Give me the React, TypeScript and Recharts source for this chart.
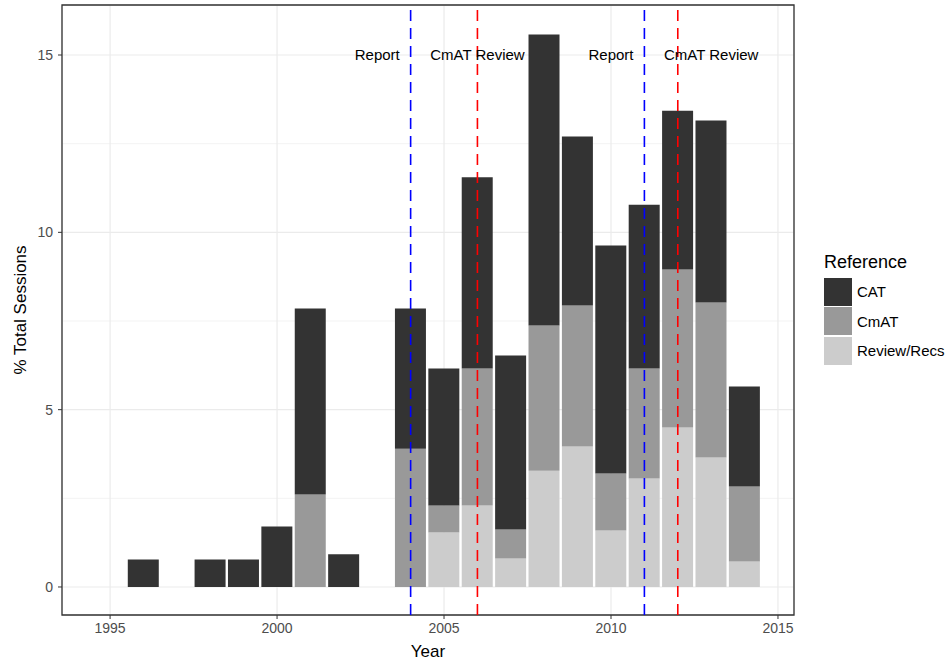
import {
  Bar,
  BarChart,
  CartesianGrid,
  ReferenceArea,
  ReferenceDot,
  ReferenceLine,
  XAxis,
  YAxis,
} from 'recharts';

// year of each bar and the height of each stacked piece (% of sessions)
const years = [1996, 1998, 1999, 2000, 2001, 2002, 2004, 2005, 2006, 2007, 2008, 2009, 2010, 2011, 2012, 2013, 2014];
const reviewRecs = [0, 0, 0, 0, 0, 0, 0, 1.54, 2.3, 0.8, 3.28, 3.96, 1.59, 3.06, 4.5, 3.65, 0.72];
const cmat = [0, 0, 0, 0, 2.61, 0, 3.9, 0.76, 3.86, 0.82, 4.09, 3.98, 1.61, 3.1, 4.45, 4.37, 2.11];
const cat = [0.775, 0.775, 0.775, 1.705, 5.24, 0.92, 3.95, 3.86, 5.39, 4.91, 8.21, 4.76, 6.43, 4.62, 4.48, 5.13, 2.82];

const xTicks = [1995, 2000, 2005, 2010, 2015];
const xMinor = [1997.5, 2002.5, 2007.5, 2012.5];
const yTicks = [0, 5, 10, 15];
const yMinor = [2.5, 7.5, 12.5];
const xDomain = [1993.56, 2015.48];
const yDomain = [-0.79, 16.41];

const reportYears = [2004, 2011];
const reviewYears = [2006, 2012];
const notes = [
  { x: 2003, label: 'Report' },
  { x: 2006, label: 'CmAT Review' },
  { x: 2010, label: 'Report' },
  { x: 2013, label: 'CmAT Review' },
];
const noteY = 15;

const series = [
  { key: 'CAT', color: '#333333' },
  { key: 'CmAT', color: '#999999' },
  { key: 'Review/Recs', color: '#cccccc' },
];

const data = years.map((year, i) => ({
  year,
  'Review/Recs': reviewRecs[i],
  CmAT: cmat[i],
  CAT: cat[i],
}));

const font = '"Liberation Sans", Arial, Helvetica, sans-serif';
const tickStyle = { fill: '#4d4d4d', fontSize: 14, fontFamily: font };

export default function App() {
  return (
    <div style={{ position: 'absolute', left: 0, top: 0, width: 945, height: 661, fontFamily: font }}>
      <BarChart
        width={945}
        height={661}
        data={data}
        margin={{ top: 5, right: 151, bottom: 0, left: 0 }}
        barSize={31}
      >
        {/* hidden axes only carry the minor grid positions */}
        <XAxis xAxisId="minor" type="number" domain={xDomain} ticks={xMinor} allowDataOverflow hide />
        <YAxis yAxisId="minor" type="number" domain={yDomain} ticks={yMinor} allowDataOverflow hide />
        <CartesianGrid xAxisId="minor" yAxisId="minor" stroke="#ebebeb" strokeWidth={0.6} />
        <CartesianGrid stroke="#ebebeb" strokeWidth={1.2} />
        <XAxis
          dataKey="year"
          type="number"
          domain={xDomain}
          ticks={xTicks}
          allowDataOverflow
          height={46}
          axisLine={false}
          tickSize={4}
          tickMargin={4}
          tickLine={{ stroke: '#333333' }}
          tick={tickStyle}
          label={{ value: 'Year', position: 'insideBottom', offset: 4, style: { fill: '#000', fontSize: 17, fontFamily: font } }}
        />
        <YAxis
          type="number"
          domain={yDomain}
          ticks={yTicks}
          allowDataOverflow
          width={62}
          axisLine={false}
          tickSize={4}
          tickMargin={5}
          tickLine={{ stroke: '#333333' }}
          tick={tickStyle}
          label={{
            value: '% Total Sessions',
            angle: -90,
            position: 'insideLeft',
            offset: 20,
            style: { fill: '#000', fontSize: 17, fontFamily: font, textAnchor: 'middle' },
          }}
        />
        <Bar dataKey="Review/Recs" stackId="a" fill="#cccccc" isAnimationActive={false} />
        <Bar dataKey="CmAT" stackId="a" fill="#999999" isAnimationActive={false} />
        <Bar dataKey="CAT" stackId="a" fill="#333333" isAnimationActive={false} />
        {reportYears.map((v) => (
          <ReferenceLine key={`r${v}`} x={v} stroke="#0000ff" strokeWidth={1.6} strokeDasharray="11 7" />
        ))}
        {reviewYears.map((v) => (
          <ReferenceLine key={`c${v}`} x={v} stroke="#ff0000" strokeWidth={1.6} strokeDasharray="11 7" />
        ))}
        {notes.map((n) => (
          <ReferenceDot
            key={`${n.label}${n.x}`}
            x={n.x}
            y={noteY}
            r={0}
            fill="none"
            stroke="none"
            label={{ value: n.label, position: 'center', style: { fill: '#000', fontSize: 15, fontFamily: font } }}
          />
        ))}
        <ReferenceArea
          x1={xDomain[0]}
          x2={xDomain[1]}
          y1={yDomain[0]}
          y2={yDomain[1]}
          fill="none"
          fillOpacity={0}
          stroke="#333333"
          strokeWidth={1.3}
        />
      </BarChart>
      <div style={{ position: 'absolute', left: 824, top: 251 }}>
        <div style={{ fontSize: 18, color: '#000', marginBottom: 4, lineHeight: '22px' }}>Reference</div>
        {series.map((s) => (
          <div key={s.key} style={{ display: 'flex', alignItems: 'center', height: 29.5 }}>
            <div style={{ width: 28, height: 28, background: s.color }} />
            <span style={{ marginLeft: 5, fontSize: 15, color: '#000' }}>{s.key}</span>
          </div>
        ))}
      </div>
    </div>
  );
}
